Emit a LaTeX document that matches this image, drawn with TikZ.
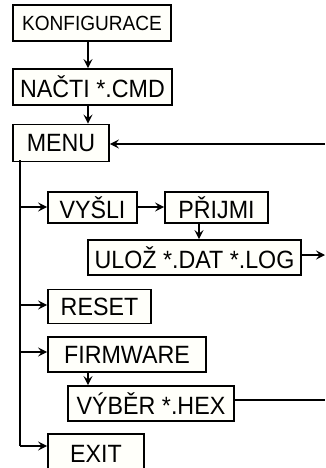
\documentclass[tikz,border=0pt]{standalone}
\usepackage{fontspec}
\setmainfont{Liberation Sans}[FakeStretch=0.93]
\usetikzlibrary{arrows.meta}
\definecolor{boxfill}{RGB}{255,255,250}
\newcommand\bigtxt{\fontsize{25}{28}\selectfont}
\newcommand\smalltxt{\fontsize{20.5}{23}\selectfont}
\tikzset{
  box/.style={draw=black, line width=1.9pt, fill=boxfill, inner sep=0pt, font=\bigtxt},
  arr/.style={line width=1.9pt, -{Stealth[length=9pt,width=9pt,inset=3.5pt]}},
  ln/.style={line width=1.9pt}
}
\begin{document}
\begin{tikzpicture}[x=1pt,y=-1pt]
\useasboundingbox (0,0) rectangle (325,468);
% boxes (centers and sizes in px)
\node[box, minimum width=158pt, minimum height=36pt, font=\smalltxt] (K) at (92,23) {KONFIGURACE};
\node[box, minimum width=159pt, minimum height=36pt] (N) at (92.5,87) {NAČTI *.CMD};
\node[box, minimum width=96pt, minimum height=37pt] (M) at (61,143) {MENU};
\node[box, minimum width=89pt, minimum height=31pt] (V) at (92.5,207.5) {VYŠLI};
\node[box, minimum width=103pt, minimum height=31pt] (P) at (216.5,207.5) {PŘIJMI};
\node[box, minimum width=213pt, minimum height=35pt] (U) at (194.5,257.5) {ULOŽ *.DAT *.LOG};
\node[box, minimum width=103pt, minimum height=34pt] (R) at (99.5,306.5) {RESET};
\node[box, minimum width=158pt, minimum height=35pt] (F) at (127,354.5) {FIRMWARE};
\node[box, minimum width=166pt, minimum height=35pt] (H) at (151,403.5) {VÝBĚR *.HEX};
\node[box, minimum width=96pt, minimum height=40pt] (E) at (96,454) {EXIT};
% coordinates
\coordinate (kx) at (88,0);
\coordinate (t0) at (20,160);
\coordinate (tV) at (20,207);
\coordinate (tR) at (20,305);
\coordinate (tF) at (20,352);
\coordinate (tE) at (20,446);
\coordinate (rin) at (325,144);
\coordinate (rout) at (325,255);
\coordinate (rhex) at (325,400);
\coordinate (px) at (199,0);
% connectors
\draw[arr] (K.south -| kx) -- (N.north -| kx);
\draw[arr] (N.south -| kx) -- (M.north -| kx);
\draw[arr] (rin) -- (rin -| M.east);
\draw[ln] (t0) -- (tE);
\draw[arr] (tV) -- (tV -| V.west);
\draw[arr] (tV -| V.east) -- (tV -| P.west);
\draw[arr] (P.south -| px) -- (U.north -| px);
\draw[arr] (rout -| U.east) -- (rout);
\draw[arr] (tR) -- (tR -| R.west);
\draw[arr] (tF) -- (tF -| F.west);
\draw[arr] (F.south -| kx) -- (H.north -| kx);
\draw[ln] (rhex -| H.east) -- (rhex);
\draw[arr] (tE) -- (tE -| E.west);
\end{tikzpicture}
\end{document}
